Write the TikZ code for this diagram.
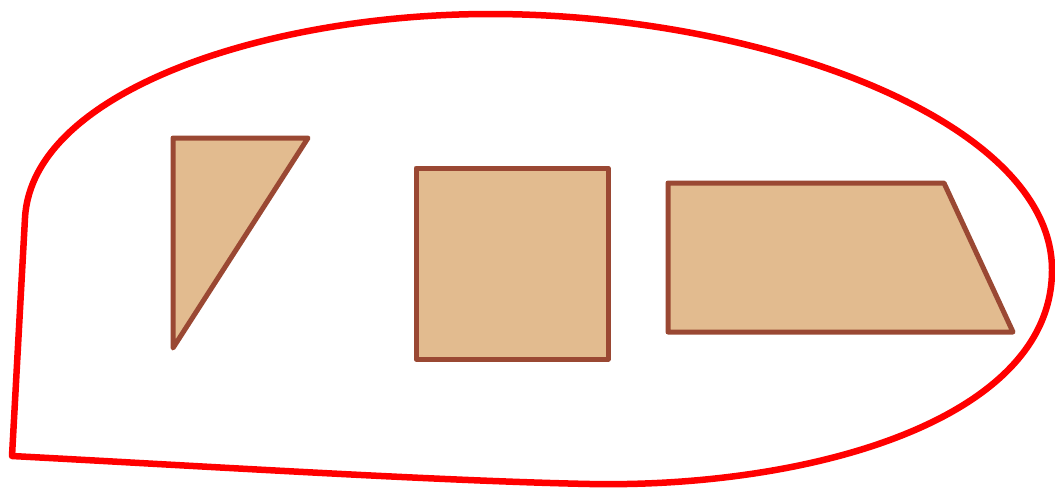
\documentclass[tikz,border=0pt]{standalone}
\definecolor{shapefill}{HTML}{E2BB8F}
\definecolor{shapeline}{HTML}{9A4833}
\begin{document}
\begin{tikzpicture}[x=1pt,y=-1pt,
  piece/.style={draw=shapeline,fill=shapefill,line width=5pt,line join=round},
  outline/.style={draw=red,line width=6.5pt,line join=round}]
\useasboundingbox (0,0) rectangle (1055,488);
\draw[outline] (12,456) -- (25,218)
  .. controls (32,90) and (270,14) .. (490,14)
  .. controls (760,14) and (1052,120) .. (1052,270)
  .. controls (1052,420) and (810,488) .. (590,484)
  .. controls (440,481) and (200,466) .. cycle;
\draw[piece] (173,138) -- (308,138) -- (173,348) -- cycle;
\draw[piece] (416,168) rectangle (608,359);
\draw[piece] (668,183) -- (944,183) -- (1013,332) -- (668,332) -- cycle;
\end{tikzpicture}
\end{document}
